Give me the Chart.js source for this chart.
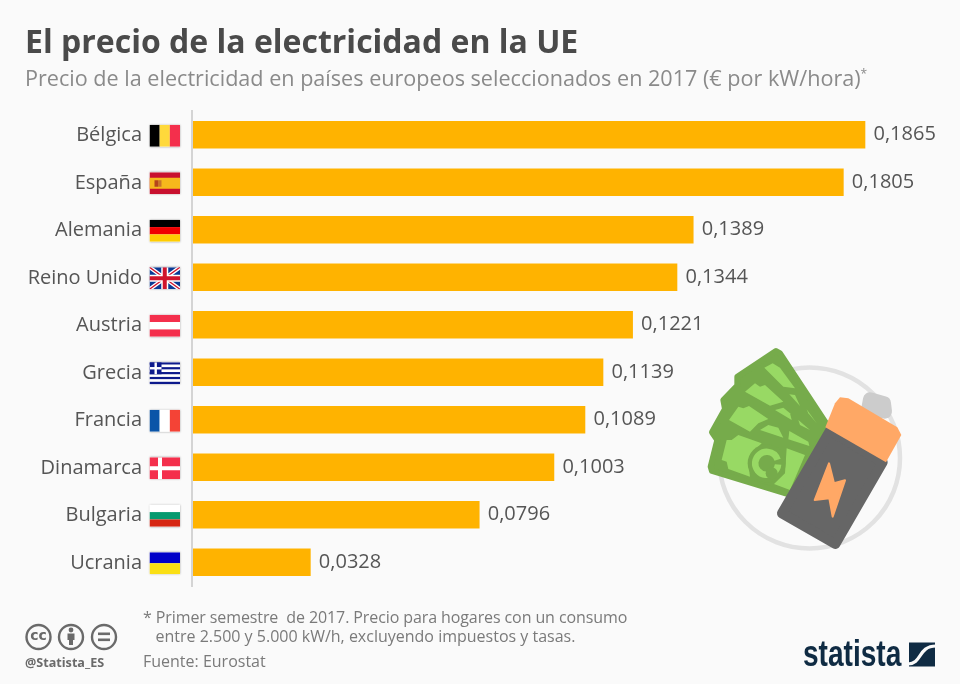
<!DOCTYPE html>
<html>
<head>
<meta charset="utf-8">
<script src="https://cdn.jsdelivr.net/npm/chart.js@4"></script>
<style>
body { margin: 0; background: #fafafa; font-family: "Open Sans", sans-serif; }
#wrap { position: relative; width: 960px; height: 684px; overflow: hidden; }
#myChart { position: absolute; left: 0; top: 0; }
.t { position: absolute; white-space: pre; }
#title { left: 25px; top: 19px; font-size: 32px; font-weight: 700; color: #4a4a4a; }
#subtitle { left: 25px; top: 63px; font-size: 21.6px; color: #8a8a8a; }
#subtitle sup { font-size: 12px; line-height: 0; }
.foot { left: 143px; font-size: 16px; color: #7a7a7a; }
#handle { left: 25px; top: 654px; font-size: 12.6px; font-weight: 700; color: #6a6a6a; }
#logo { left: 803px; top: 633px; font-size: 36px; font-weight: 700; color: #0f2b43; font-family: "Liberation Sans"; transform: scaleX(0.78); transform-origin: left top; }
</style>
</head>
<body>
<div id="wrap">
    <canvas id="myChart" width="960" height="684"></canvas>
    <div class="t" id="title">El precio de la electricidad en la UE</div>
    <div class="t" id="subtitle">Precio de la electricidad en países europeos seleccionados en 2017 (€ por kW/hora)<sup>*</sup></div>
    <div class="t foot" style="top:606px;letter-spacing:-0.1px">* Primer semestre  de 2017. Precio para hogares con un consumo</div>
    <div class="t foot" style="top:625px">   entre 2.500 y 5.000 kW/h, excluyendo impuestos y tasas.</div>
    <div class="t foot" style="top:650px">Fuente: Eurostat</div>
    <div class="t" id="handle">@Statista_ES</div>
    <div class="t" id="logo">statista</div>
</div>
<script>
const labels = ['Bélgica','España','Alemania','Reino Unido','Austria','Grecia','Francia','Dinamarca','Bulgaria','Ucrania'];
const values = [0.1865,0.1805,0.1389,0.1344,0.1221,0.1139,0.1089,0.1003,0.0796,0.0328];
const flags = ['be','es','de','uk','at','gr','fr','dk','bg','ua'];

function stripesV(ctx, x, y, w, h, cols) {
    cols.forEach((c, i) => { ctx.fillStyle = c; ctx.fillRect(x + w*i/cols.length, y, w/cols.length, h); });
}
function stripesH(ctx, x, y, w, h, cols) {
    cols.forEach((c, i) => { ctx.fillStyle = c; ctx.fillRect(x, y + h*i/cols.length, w, h/cols.length); });
}

function drawFlag(ctx, name, x, y, w, h) {
    ctx.save();
    ctx.shadowColor = 'rgba(0,0,0,0.35)';
    ctx.shadowBlur = 2;
    ctx.fillStyle = '#fff';
    ctx.fillRect(x, y, w, h);
    ctx.restore();
    ctx.save();
    ctx.beginPath();
    ctx.rect(x, y, w, h);
    ctx.clip();
    if (name == 'be') stripesV(ctx, x, y, w, h, ['#000000','#ffd93b','#f42f4c']);
    if (name == 'fr') stripesV(ctx, x, y, w, h, ['#0b55a8','#ffffff','#f44336']);
    if (name == 'de') stripesH(ctx, x, y, w, h, ['#000000','#f00000','#ffcd00']);
    if (name == 'at') stripesH(ctx, x, y, w, h, ['#f42f4c','#ffffff','#f42f4c']);
    if (name == 'bg') stripesH(ctx, x, y, w, h, ['#ffffff','#059a6f','#d62612']);
    if (name == 'ua') stripesH(ctx, x, y, w, h, ['#0000c8','#fadf14']);
    if (name == 'es') {
        ctx.fillStyle = '#c8102e';
        ctx.fillRect(x, y, w, h);
        ctx.fillStyle = '#f6b81c';
        ctx.fillRect(x, y + h/4, w, h/2);
        ctx.fillStyle = '#b5451b';
        ctx.fillRect(x + 5, y + 8, 3.5, 6.5);
        ctx.fillStyle = '#c9742a';
        ctx.fillRect(x + 8.5, y + 8, 3.5, 6.5);
    }
    if (name == 'dk') {
        ctx.fillStyle = '#f42f4c';
        ctx.fillRect(x, y, w, h);
        ctx.fillStyle = '#fff';
        ctx.fillRect(x + 8.5, y, 4, h);
        ctx.fillRect(x, y + h/2 - 2, w, 4);
    }
    if (name == 'gr') {
        stripesH(ctx, x, y, w, h, ['#0d1a8c','#fff','#0d1a8c','#fff','#0d1a8c','#fff','#0d1a8c','#fff','#0d1a8c']);
        ctx.fillStyle = '#0d1a8c';
        ctx.fillRect(x, y, 12, 12);
        ctx.fillStyle = '#fff';
        ctx.fillRect(x + 5, y, 2.4, 12);
        ctx.fillRect(x, y + 4.8, 12, 2.4);
    }
    if (name == 'uk') {
        ctx.fillStyle = '#0a3a94';
        ctx.fillRect(x, y, w, h);
        ctx.strokeStyle = '#fff';
        ctx.lineWidth = 4;
        ctx.beginPath();
        ctx.moveTo(x, y); ctx.lineTo(x + w, y + h);
        ctx.moveTo(x + w, y); ctx.lineTo(x, y + h);
        ctx.stroke();
        ctx.strokeStyle = '#d0142c';
        ctx.lineWidth = 1.4;
        ctx.stroke();
        ctx.fillStyle = '#fff';
        ctx.fillRect(x + w/2 - 3.5, y, 7, h);
        ctx.fillRect(x, y + h/2 - 3.5, w, 7);
        ctx.fillStyle = '#d0142c';
        ctx.fillRect(x + w/2 - 2, y, 4, h);
        ctx.fillRect(x, y + h/2 - 2, w, 4);
    }
    ctx.restore();
}

function poly(ctx, color, pts) {
    ctx.fillStyle = color;
    ctx.beginPath();
    pts.forEach((p, i) => {
        const px = p[0]/3, py = p[1]/3;
        if (i == 0) ctx.moveTo(px, py); else ctx.lineTo(px, py);
    });
    ctx.closePath();
    ctx.fill();
}
function roundPoly(ctx, color, pts, r) {
    ctx.save();
    ctx.lineJoin = 'round';
    ctx.lineWidth = r*2;
    ctx.strokeStyle = color;
    poly(ctx, color, pts);
    ctx.stroke();
    ctx.restore();
}

function drawMoney(ctx) {
    const dark = '#76ab4b', light = '#98d964';
    ctx.save();
    ctx.translate(700, 345);
    roundPoly(ctx, dark, [[32,365],[52,285],[36,262],[75,192],[70,165],[112,122],[112,95],[228,18],[240,25],[385,245],[262,447],[36,378]], 3);
    poly(ctx, light, [[193,68],[218,55],[240,68],[285,130],[250,125]]);
    poly(ctx, light, [[135,140],[165,115],[180,125],[195,120],[250,170],[210,182]]);
    poly(ctx, light, [[87,225],[115,185],[130,190],[147,183],[205,222],[175,235],[150,260]]);
    poly(ctx, light, [[65,345],[80,285],[95,285],[115,270],[185,295],[160,320],[145,355],[150,395],[85,372],[80,350]]);
    poly(ctx, light, [[180,255],[205,240],[235,248],[250,278]]);
    poly(ctx, light, [[225,195],[250,188],[270,205],[275,225]]);
    poly(ctx, light, [[268,148],[285,150],[300,183]]);
    poly(ctx, light, [[268,258],[325,290],[328,303],[265,283]]);
    poly(ctx, light, [[295,225],[330,255],[300,240]]);
    poly(ctx, light, [[320,193],[350,235],[325,205]]);
    poly(ctx, light, [[260,310],[315,330],[270,435],[222,417],[255,385]]);
    ctx.fillStyle = dark;
    ctx.beginPath();
    ctx.arc(200/3, 355/3, 19, 0, Math.PI*2);
    ctx.fill();
    ctx.strokeStyle = light;
    ctx.lineWidth = 6.5;
    ctx.beginPath();
    ctx.arc(200/3, 355/3, 11.5, 0.1, Math.PI*1.9);
    ctx.stroke();
    ctx.fillStyle = dark;
    ctx.beginPath();
    ctx.arc(215/3, 385/3, 6, 0, Math.PI*2);
    ctx.fill();
    ctx.restore();
}

function drawIllustration(ctx) {
    ctx.strokeStyle = '#e2e2e2';
    ctx.lineWidth = 4.5;
    ctx.beginPath();
    ctx.arc(809.5, 458, 90.5, 0, Math.PI*2);
    ctx.stroke();

    drawMoney(ctx);

    ctx.save();
    ctx.translate(690, 340);
    roundPoly(ctx, '#cccccc', [[540,178],[582,190],[585,215],[535,205]], 7);
    roundPoly(ctx, '#666666', [[420,272],[578,367],[436,612],[276,520]], 5);
    poly(ctx, '#ffa866', [[406,262],[588,367],[634,285],[622,262],[475,175],[450,172],[435,190]]);
    roundPoly(ctx, '#ffa866', [[417,370],[432,430],[465,421],[428,530],[418,475],[374,480]], 1);
    ctx.restore();
}

function drawFooterIcons(ctx) {
    const cy = 637;
    ctx.strokeStyle = '#6a6a6a';
    ctx.fillStyle = '#6a6a6a';
    ctx.lineWidth = 2.4;
    [38.5, 71, 104].forEach(cx => {
        ctx.beginPath();
        ctx.arc(cx, cy, 12, 0, Math.PI*2);
        ctx.stroke();
    });
    ctx.font = '700 14px "DejaVu Sans"';
    ctx.textAlign = 'center';
    ctx.textBaseline = 'middle';
    ctx.fillText('cc', 38.5, 636);
    ctx.beginPath();
    ctx.arc(71, 630, 2.4, 0, Math.PI*2);
    ctx.fill();
    ctx.fillRect(67.5, 633.5, 7, 6.5);
    ctx.fillRect(69, 638, 4, 7);
    ctx.fillRect(98, 632.5, 12, 2.6);
    ctx.fillRect(98, 638.5, 12, 2.6);
}

function drawLogoMark(ctx) {
    ctx.fillStyle = '#0f2b43';
    ctx.fillRect(909, 642.5, 26, 24);
    ctx.strokeStyle = '#fafafa';
    ctx.lineWidth = 3.2;
    ctx.beginPath();
    ctx.moveTo(908, 664);
    ctx.bezierCurveTo(922, 664, 918, 646, 936, 646);
    ctx.stroke();
}

const barDecor = {
    id: 'barDecor',
    afterDatasetsDraw(chart) {
        const {ctx, scales: {x, y}} = chart;
        ctx.save();
        ctx.font = '20px "Open Sans"';
        ctx.fillStyle = '#555555';
        ctx.textAlign = 'left';
        ctx.textBaseline = 'middle';
        values.forEach((v, i) => {
            ctx.fillText(v.toFixed(4).replace('.', ','), x.getPixelForValue(v) + 8.5, y.getPixelForValue(i));
        });
        flags.forEach((f, i) => {
            drawFlag(ctx, f, 149.5, y.getPixelForValue(i) - 10, 30.5, 22);
        });
        drawIllustration(ctx);
        drawFooterIcons(ctx);
        drawLogoMark(ctx);
        ctx.restore();
    }
};

const data = {
    labels: labels,
    datasets: [
        {
        data: values,
        barThickness: 27,
        backgroundColor: '#ffb300',
        borderWidth: 0
        }
    ]
};

const config = {
    type: 'bar',
    data,
    options: {
        indexAxis: 'y',
        responsive: false,
        animation: false,
        layout: {
            padding: { left: 0, right: 46.3, top: 111, bottom: 98 }
        },
        scales: {
            x: {
                display: false,
                min: 0,
                max: 0.2
            },
            y: {
                afterFit(scale) { scale.width = 192; },
                afterBuildTicks(scale) {
                    // tick labels sit 1px below the bar centre in the reference
                    scale.getPixelForTick = i => scale.getPixelForValue(scale.ticks[i].value) + 1;
                },
                grid: { display: false, drawTicks: false },
                border: { color: '#d4d4d4', width: 2, z: 1 },
                ticks: {
                    padding: 50,
                    color: '#555555',
                    font: { family: 'Open Sans', size: 20 }
                }
            }
        },
        plugins: {
            legend: { display: false },
            tooltip: { enabled: false }
        }
    },
    plugins: [barDecor]
};

var myChart = new Chart(document.getElementById('myChart'), config);
</script>
</body>
</html>
